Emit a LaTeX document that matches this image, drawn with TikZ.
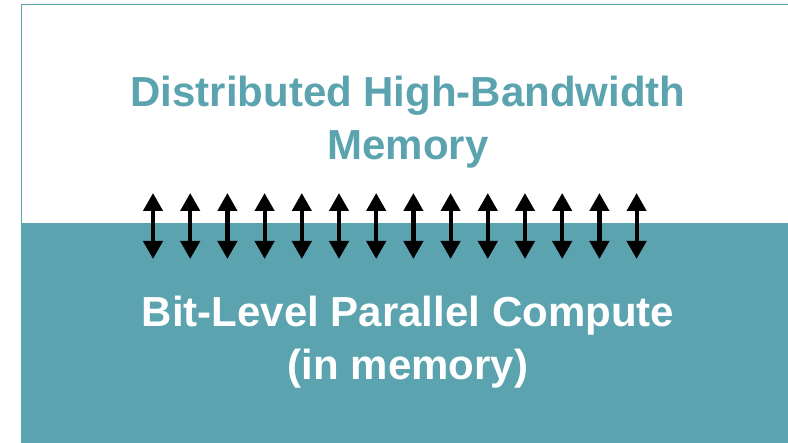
\documentclass[tikz,border=0pt]{standalone}
\usepackage{fontspec}
\setmainfont{Liberation Sans}
\usetikzlibrary{arrows.meta}
\definecolor{tealc}{RGB}{91,163,175}
\tikzset{
  bigtext/.style={font=\fontsize{42}{53}\selectfont\bfseries, align=center, inner sep=0pt},
  iarrow/.style={line width=4.2pt, {Triangle[width=19pt,length=18pt]}-{Triangle[width=19pt,length=18pt]}}
}
\begin{document}
\begin{tikzpicture}[x=1pt,y=-1pt]
\useasboundingbox (0,0) rectangle (788,443);
\fill[white] (0,0) rectangle (788,443);
% white memory box outline
\draw[tealc, line width=1.2pt] (800,4.5) -- (21.5,4.5) -- (21.5,224);
% compute region
\fill[tealc] (21,223) rectangle (788,443);
\node[bigtext, text=tealc] (mem) at (408,122) {Distributed High-Bandwidth\\Memory};
\node[bigtext, text=white] (comp) at (408,342) {Bit-Level Parallel Compute\\(in memory)};
\foreach \i in {0,...,13}{
  \coordinate (t\i) at ({153+37.2*\i},193);
  \coordinate (b\i) at ({153+37.2*\i},259);
  \draw[iarrow] (t\i) -- (b\i);
}
\end{tikzpicture}
\end{document}
